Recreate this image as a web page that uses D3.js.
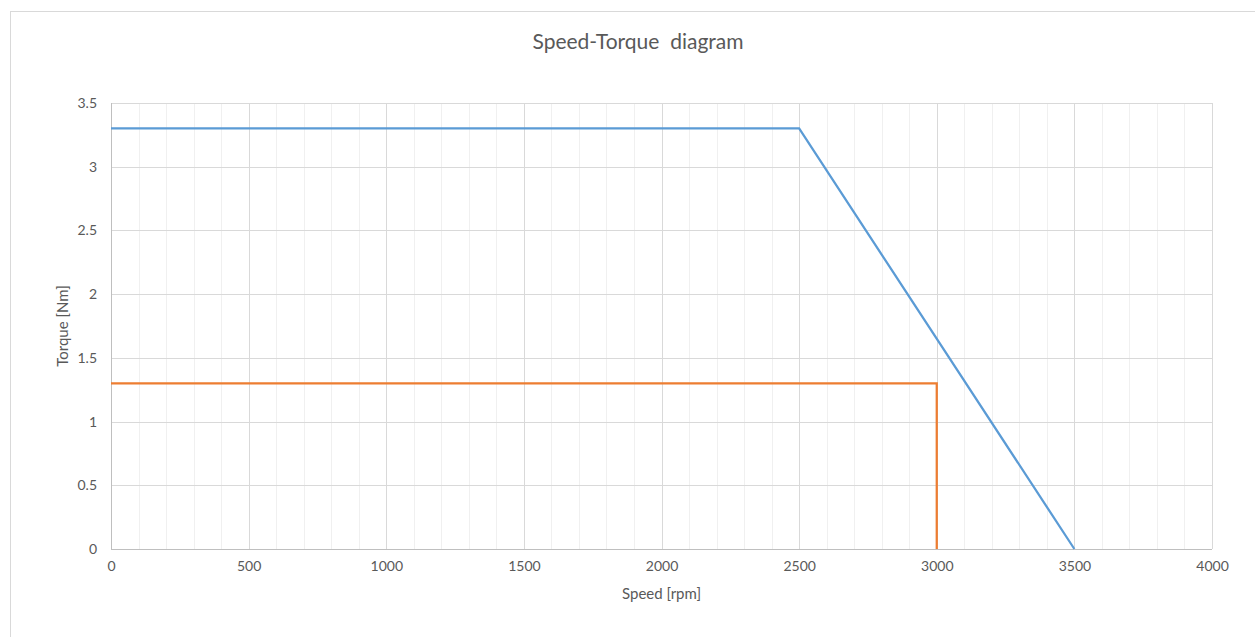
<!DOCTYPE html>
<html>
<head>
<meta charset="utf-8">
<script src="https://cdn.jsdelivr.net/npm/d3@7"></script>
<style>
  body { margin: 0; background: #fff; }
  text { font-family: Lato, "Open Sans", sans-serif; fill: #595959; }
</style>
</head>
<body>
<div id="chart"></div>
<script>
// data
const ratedSpeed = [0, 2500, 3500];
const ratedTorque = [3.3, 3.3, 0];
const contSpeed = [0, 3000, 3000];
const contTorque = [1.3, 1.3, 0];
const xTicks = [0, 500, 1000, 1500, 2000, 2500, 3000, 3500, 4000];
const yTicks = [0, 0.5, 1, 1.5, 2, 2.5, 3, 3.5];
const xMinor = d3.range(0, 4001, 100);

const W = 1255, H = 637;
const margin = {top: 103, right: 43, bottom: 88, left: 111};
const width = W - margin.left - margin.right;
const height = H - margin.top - margin.bottom;

const svg = d3.select("#chart").append("svg")
    .attr("width", W)
    .attr("height", H);

// chart frame
svg.append("rect")
    .attr("x", 10.5).attr("y", 11.5)
    .attr("width", W).attr("height", H)
    .attr("fill", "none")
    .attr("stroke", "#d9d9d9");

const g = svg.append("g")
    .attr("transform", `translate(${margin.left},${margin.top})`);

const x = d3.scaleLinear().domain([0, 4000]).range([0, width]);
const y = d3.scaleLinear().domain([0, 3.5]).range([height, 0]);

// minor vertical grid
g.append("g").selectAll("line")
    .data(xMinor.filter(d => d % 500 !== 0))
    .join("line")
    .attr("x1", d => Math.round(x(d)) + 0.5).attr("x2", d => Math.round(x(d)) + 0.5)
    .attr("y1", 0).attr("y2", height)
    .attr("stroke", "#f0f0f0");

// major vertical grid
g.append("g").selectAll("line")
    .data(xTicks)
    .join("line")
    .attr("x1", d => Math.round(x(d)) + 0.5).attr("x2", d => Math.round(x(d)) + 0.5)
    .attr("y1", 0).attr("y2", height)
    .attr("stroke", "#d9d9d9");

// horizontal grid
g.append("g").selectAll("line")
    .data(yTicks)
    .join("line")
    .attr("x1", 0).attr("x2", width)
    .attr("y1", d => Math.round(y(d)) + 0.5).attr("y2", d => Math.round(y(d)) + 0.5)
    .attr("stroke", "#d9d9d9");

// axis lines
g.append("line")
    .attr("x1", 0.5).attr("x2", 0.5).attr("y1", 0).attr("y2", height)
    .attr("stroke", "#bfbfbf");
g.append("line")
    .attr("x1", 0).attr("x2", width)
    .attr("y1", Math.round(height) + 0.5).attr("y2", Math.round(height) + 0.5)
    .attr("stroke", "#bfbfbf");

// tick labels via axes
const xAxis = g.append("g")
    .attr("transform", `translate(0,${height})`)
    .call(d3.axisBottom(x).tickValues(xTicks).tickSize(0).tickPadding(12).tickFormat(d3.format("d")));
const yAxis = g.append("g")
    .call(d3.axisLeft(y).tickValues(yTicks).tickSize(0).tickPadding(14).tickFormat(d3.format("")));
[xAxis, yAxis].forEach(a => {
    a.select(".domain").remove();
    a.selectAll("text")
        .style("font-family", "Lato, 'Open Sans', sans-serif")
        .style("font-size", "14px")
        .attr("fill", "#595959");
});

const line = d3.line().x(d => x(d[0])).y(d => y(d[1]));

g.append("path")
    .datum(ratedSpeed.map((s, i) => [s, ratedTorque[i]]))
    .attr("d", line)
    .attr("fill", "none")
    .attr("stroke", "#5b9bd5")
    .attr("stroke-width", 2.25);

g.append("path")
    .datum(contSpeed.map((s, i) => [s, contTorque[i]]))
    .attr("d", line)
    .attr("fill", "none")
    .attr("stroke", "#ed7d31")
    .attr("stroke-width", 2.25);

// titles
svg.append("text")
    .attr("x", 638).attr("y", 49)
    .attr("text-anchor", "middle")
    .style("font-size", "21px")
    .style("white-space", "pre")
    .text("Speed-Torque  diagram");

svg.append("text")
    .attr("x", margin.left + width / 2).attr("y", 599)
    .attr("text-anchor", "middle")
    .style("font-size", "15px")
    .text("Speed [rpm]");

svg.append("text")
    .attr("transform", `translate(68,${margin.top + height / 2}) rotate(-90)`)
    .attr("text-anchor", "middle")
    .style("font-size", "15px")
    .text("Torque [Nm]");
</script>
</body>
</html>
